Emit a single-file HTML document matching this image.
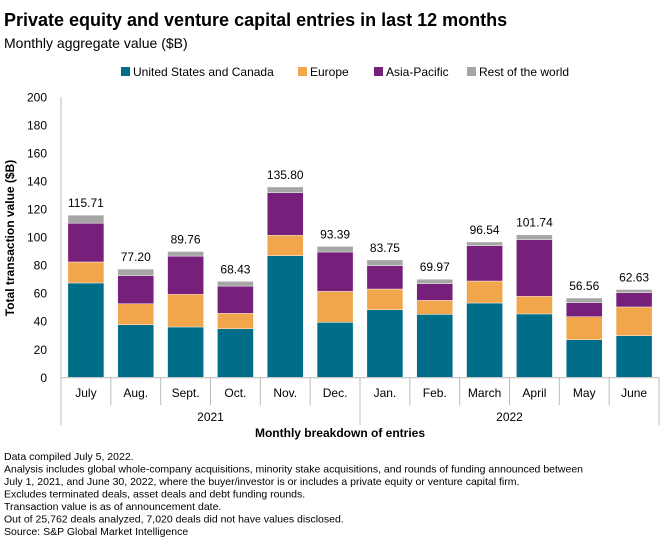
<!DOCTYPE html>
<html><head><meta charset="utf-8"><style>
body{margin:0;background:#fff;font-family:"Liberation Sans",sans-serif;}
svg text{font-family:"Liberation Sans",sans-serif;}
</style></head><body>
<svg width="660" height="552" xmlns="http://www.w3.org/2000/svg">
<text x="4" y="26" font-size="18" font-weight="bold" fill="#000">Private equity and venture capital entries in last 12 months</text>
<text x="4" y="48" font-size="14" fill="#000">Monthly aggregate value ($B)</text>
<g id="legend"></g>
<g id="yaxis"></g>
<g id="bars"></g>
<g id="xaxis"></g>
<text transform="translate(14,238) rotate(-90)" text-anchor="middle" font-size="12" font-weight="bold">Total transaction value ($B)</text>
<text x="340" y="437" text-anchor="middle" font-size="12" font-weight="bold">Monthly breakdown of entries</text>
<g font-size="10.5" fill="#000">
<text x="4" y="460">Data compiled July 5, 2022.</text>
<text x="4" y="472.5">Analysis includes global whole-company acquisitions, minority stake acquisitions, and rounds of funding announced between</text>
<text x="4" y="485">July 1, 2021, and June 30, 2022, where the buyer/investor is or includes a private equity or venture capital firm.</text>
<text x="4" y="497.5">Excludes terminated deals, asset deals and debt funding rounds.</text>
<text x="4" y="510">Transaction value is as of announcement date.</text>
<text x="4" y="522.5">Out of 25,762 deals analyzed, 7,020 deals did not have values disclosed.</text>
<text x="4" y="535">Source: S&amp;P Global Market Intelligence</text>
</g>
</svg>
<script>
const months=["July","Aug.","Sept.","Oct.","Nov.","Dec.","Jan.","Feb.","March","April","May","June"];
const totals=[115.71,77.20,89.76,68.43,135.80,93.39,83.75,69.97,96.54,101.74,56.56,62.63];
const usCanada=[67.3,37.5,35.9,34.7,86.8,39.2,48.2,44.9,53.0,45.2,26.8,29.7];
const europe=[15.0,15.0,23.3,10.9,14.5,22.1,14.8,10.0,15.7,12.6,16.4,20.5];
const asiaPacific=[27.7,20.0,27.3,19.5,30.4,28.1,16.6,11.9,25.2,40.4,10.0,10.2];
const restOfWorld=totals.map((t,i)=>+(t-usCanada[i]-europe[i]-asiaPacific[i]).toFixed(2));
const yTicks=[0,20,40,60,80,100,120,140,160,180,200];
const years=["2021","2022"];
const seriesNames=["United States and Canada","Europe","Asia-Pacific","Rest of the world"];
const colors=["#006d89","#f2a64b","#76207c","#a6a6a6"];
const NS="http://www.w3.org/2000/svg";
const X0=61,X1=659,Y0=377.3,YTOP=97;
const step=(X1-X0)/months.length;
const y=v=>Y0-(v/200)*(Y0-YTOP);
const xc=i=>X0+step*(i+0.5);
function mk(tag,attrs,parent){const e=document.createElementNS(NS,tag);for(const k in attrs)e.setAttribute(k,attrs[k]);parent.appendChild(e);return e;}
const lg=document.getElementById('legend');
const lx=[121,298,374,467];
seriesNames.forEach((n,i)=>{
 const r=mk('rect',{x:lx[i],y:67,width:9,height:9,fill:colors[i]},lg);
 
 
 const t=mk('text',{x:lx[i]+12,y:76,'font-size':12},lg);t.textContent=n;
 
 
});
const ya=document.getElementById('yaxis');
mk('line',{x1:X0,y1:YTOP,x2:X0,y2:Y0,stroke:'#bbb','stroke-width':1},ya);
yTicks.forEach(v=>{const t=mk('text',{x:47,y:y(v)+4.5,'text-anchor':'end','font-size':12},ya);t.textContent=v;
 
 });
const bg=document.getElementById('bars');
const series=[usCanada,europe,asiaPacific,restOfWorld];
months.forEach((m,i)=>{
 let base=0;
 series.forEach((s,k)=>{
  const r=mk('rect',{x:xc(i)-18,y:y(base+s[i]),width:36,height:y(base)-y(base+s[i]),fill:colors[k],stroke:'#fff','stroke-width':0.4},bg);
  
  
  base+=s[i];
 });
 const t=mk('text',{x:xc(i),y:y(totals[i])-8,'text-anchor':'middle','font-size':12},bg);
 t.textContent=totals[i].toFixed(2);
 
 
});
const xa=document.getElementById('xaxis');
mk('line',{x1:X0,y1:Y0+0.5,x2:X1,y2:Y0+0.5,stroke:'#bbb','stroke-width':1},xa);
for(let i=0;i<=months.length;i++){
 const long=(i===0||i===6||i===12);
 mk('line',{x1:X0+step*i,y1:Y0,x2:X0+step*i,y2:long?425:405,stroke:'#bbb','stroke-width':1},xa);
}
months.forEach((m,i)=>{const t=mk('text',{x:xc(i),y:397,'text-anchor':'middle','font-size':12},xa);t.textContent=m;
 
 });
years.forEach((yr,j)=>{const t=mk('text',{x:X0+step*(6*j+3),y:421,'text-anchor':'middle','font-size':12},xa);t.textContent=yr;
 
 });
</script>
</body></html>
